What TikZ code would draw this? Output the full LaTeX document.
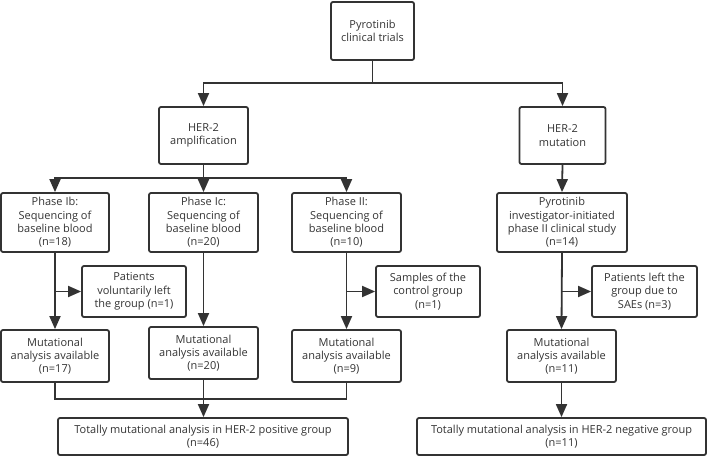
\documentclass[tikz,border=0pt]{standalone}
\usepackage{fontspec}
\setmainfont{Open Sans}
\usetikzlibrary{arrows.meta}
\definecolor{ln}{HTML}{333333}
\begin{document}
\begin{tikzpicture}[x=1pt,y=-1pt,
  box/.style={draw=ln,line width=1.8pt,rounded corners=2pt,align=center,inner sep=1pt,
    font=\fontsize{11}{13.3}\selectfont,text=black!80},
  con/.style={draw=ln,line width=1.8pt},
  arr/.style={con,-{Triangle[length=13pt,width=11pt]}}]
\useasboundingbox (0,0) rectangle (709,457);
\node[box,minimum width=83pt,minimum height=58pt] (top) at (372.5,31) {Pyrotinib\\clinical trials};
\node[box,minimum width=89pt,minimum height=57pt] (amp) at (203.5,135.5) {HER-2\\amplification};
\node[box,minimum width=86pt,minimum height=57pt] (mut) at (562.5,135.5) {HER-2\\mutation};
\node[box,minimum width=108pt,minimum height=59pt] (p1b) at (55,222.5) {Phase Ib:\\Sequencing of\\baseline blood\\(n=18)};
\node[box,minimum width=109pt,minimum height=59pt] (p1c) at (203.5,222.5) {Phase Ic:\\Sequencing of\\baseline blood\\(n=20)};
\node[box,minimum width=109pt,minimum height=59pt] (p2) at (346.5,222.5) {Phase II:\\Sequencing of\\baseline blood\\(n=10)};
\node[box,minimum width=130pt,minimum height=59pt] (pyro) at (562,222.5) {Pyrotinib\\investigator-initiated\\phase II clinical study\\(n=14)};
\node[box,minimum width=104pt,minimum height=51pt] (left) at (134,291.5) {Patients\\voluntarily left\\the group (n=1)};
\node[box,minimum width=104pt,minimum height=51pt] (ctrl) at (428,291.5) {Samples of the\\control group\\(n=1)};
\node[box,minimum width=105pt,minimum height=51pt] (sae) at (644.5,291.5) {Patients left the\\group due to\\SAEs (n=3)};
\node[box,minimum width=108pt,minimum height=52pt] (m17) at (55,356) {Mutational\\analysis available\\(n=17)};
\node[box,minimum width=109pt,minimum height=52pt] (m20) at (203.5,353) {Mutational\\analysis available\\(n=20)};
\node[box,minimum width=109pt,minimum height=52pt] (m9) at (346.5,356) {Mutational\\analysis available\\(n=9)};
\node[box,minimum width=109pt,minimum height=52pt] (m11) at (561.5,356) {Mutational\\analysis available\\(n=11)};
\node[box,minimum width=290pt,minimum height=37pt] (tpos) at (203,436.5) {Totally mutational analysis in HER-2 positive group\\(n=46)};
\node[box,minimum width=289pt,minimum height=37pt] (tneg) at (561.5,436.5) {Totally mutational analysis in HER-2 negative group\\(n=11)};
% top split
\coordinate (j1) at (372.5,83);
\draw[con] (top.south) -- (j1);
\draw[arr] (j1) -| (amp.north);
\draw[arr] (j1) -| (mut.north);
% amplification split
\coordinate (j2) at (203.5,178);
\draw[con] (amp.south) -- (j2);
\draw[arr] (j2) -| (p1b.north);
\draw[arr] (j2) -- (p1c.north);
\draw[arr] (j2) -| (p2.north);
\draw[arr] (mut.south) -- (pyro.north);
% verticals with side exits
\draw[arr] (p1b.south) -- (m17.north);
\draw[arr] (p1c.south) -- (m20.north);
\draw[arr] (p2.south) -- (m9.north);
\draw[arr] (pyro.south) -- (m11.north);
\draw[arr] (p1b.south |- left.west) -- (left.west);
\draw[arr] (p2.south |- ctrl.west) -- (ctrl.west);
\draw[arr] (pyro.south |- sae.west) -- (sae.west);
% merge
\coordinate (j3) at (203.5,399);
\draw[con] (m17.south) -- (m17.south |- j3) -- (m9.south |- j3) -- (m9.south);
\draw[arr] (m20.south) -- (tpos.north -| m20.south);
\draw[arr] (m11.south) -- (tneg.north -| m11.south);
\end{tikzpicture}
\end{document}
